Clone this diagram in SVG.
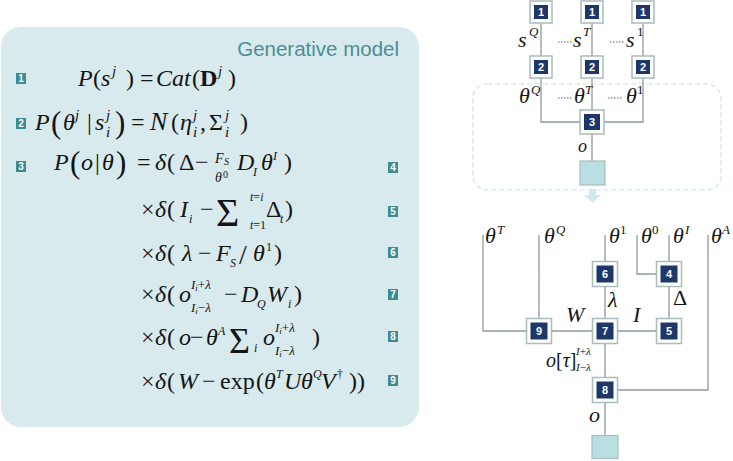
<svg xmlns="http://www.w3.org/2000/svg" width="733" height="461" viewBox="0 0 733 461">
<style>
.eq{font-family:"Liberation Serif","Times New Roman",serif;font-size:24px;fill:#141414}
.i{font-style:italic}
.s{font-size:15px}
.t{font-size:12px}
.b{font-weight:bold}
.bg{font-size:31px}
.badge rect{fill:#3d8c8f}
.badge text{font-family:"Liberation Sans",Arial,sans-serif;font-size:10px;font-weight:bold;fill:#fff;text-anchor:middle}
.fo{fill:#fff;stroke:#a9bcbe;stroke-width:1.5}
.fi{fill:#1d3868}
.fn{font-family:"Liberation Sans",Arial,sans-serif;font-size:11px;font-weight:bold;fill:#fff;text-anchor:middle}
.obs{fill:#b9dfe2;stroke:#a9bcbe;stroke-width:1.2}
.lb{font-family:"Liberation Serif","Times New Roman",serif;font-size:22px;font-style:italic;fill:#141414}
.sp{font-size:13px}
.dot{stroke-dasharray:1.5 1.5}
</style>
<rect x="1" y="27" width="418" height="400" rx="20" fill="#d8eaed"/>
<text x="399" y="56" font-family="Liberation Sans, Arial, sans-serif" font-size="20.5" fill="#4a8f94" text-anchor="end">Generative model</text>

<g class="badge">
<rect x="16" y="73" width="10" height="11"/><text x="21" y="82">1</text>
<rect x="16" y="118" width="10" height="11"/><text x="21" y="127">2</text>
<rect x="16" y="161" width="10" height="11"/><text x="21" y="170">3</text>
<rect x="388" y="162" width="10" height="11"/><text x="393" y="171">4</text>
<rect x="388" y="206" width="10" height="11"/><text x="393" y="215">5</text>
<rect x="388" y="247" width="10" height="11"/><text x="393" y="256">6</text>
<rect x="388" y="289" width="10" height="11"/><text x="393" y="298">7</text>
<rect x="388" y="331" width="10" height="11"/><text x="393" y="340">8</text>
<rect x="388" y="375" width="10" height="11"/><text x="393" y="384">9</text>
</g>

<g id="equations" class="eq">
<text><tspan x="78" y="86" class="i">P</tspan><tspan x="93">(</tspan><tspan x="101" class="i">s</tspan><tspan x="112" y="76" class="i s">j</tspan><tspan x="126" y="86">)</tspan><tspan x="140">=</tspan><tspan x="156" class="i">Cat</tspan><tspan x="192">(</tspan><tspan x="200" class="b">D</tspan><tspan x="218" y="76" class="i s">j</tspan><tspan x="228" y="86">)</tspan></text>

<text><tspan x="35" y="130" class="i">P</tspan><tspan x="51" y="133" class="bg">(</tspan><tspan x="63" y="130" class="i">θ</tspan><tspan x="75" y="120" class="i s">j</tspan><tspan x="87" y="130">|</tspan><tspan x="95" class="i">s</tspan><tspan x="106" y="120" class="i s">j</tspan><tspan x="106" y="137" class="i s">i</tspan><tspan x="115" y="133" class="bg">)</tspan><tspan x="131" y="130">=</tspan><tspan x="150" class="i" font-size="26">N</tspan><tspan x="171">(</tspan><tspan x="180" class="i">η</tspan><tspan x="193" y="120" class="i s">j</tspan><tspan x="193" y="137" class="i s">i</tspan><tspan x="200" y="130">,</tspan><tspan x="209">Σ</tspan><tspan x="225" y="120" class="i s">j</tspan><tspan x="225" y="137" class="i s">i</tspan><tspan x="240" y="130">)</tspan></text>

<text><tspan x="54" y="170" class="i">P</tspan><tspan x="70" y="173" class="bg">(</tspan><tspan x="81" y="170" class="i">o</tspan><tspan x="95">|</tspan><tspan x="102" class="i">θ</tspan><tspan x="116" y="173" class="bg">)</tspan><tspan x="137" y="170">=</tspan><tspan x="155" class="i">δ</tspan><tspan x="167">(</tspan><tspan x="179">Δ</tspan><tspan x="195">−</tspan><tspan x="215" y="163" class="i" font-size="14">F</tspan><tspan x="224" y="165" class="i" font-size="10">S</tspan><tspan x="215" y="182" class="i" font-size="14">θ</tspan><tspan x="223" y="177.5" font-size="10">0</tspan><tspan x="237" y="170" class="i">D</tspan><tspan x="253" y="176" class="i t">I</tspan><tspan x="261" y="170" class="i">θ</tspan><tspan x="273" y="160" class="i t">I</tspan><tspan x="284" y="170">)</tspan></text>

<text><tspan x="141" y="217">×</tspan><tspan x="155" class="i">δ</tspan><tspan x="167">(</tspan><tspan x="180" class="i">I</tspan><tspan x="189" y="223" class="i t">i</tspan><tspan x="200" y="217">−</tspan><tspan x="216" y="226" font-size="40">Σ</tspan><tspan x="250" y="201" class="t"><tspan class="i">t</tspan>=<tspan class="i">i</tspan></tspan><tspan x="250" y="229" class="t"><tspan class="i">t</tspan>=1</tspan><tspan x="266" y="217">Δ</tspan><tspan x="280" y="223" class="i t">t</tspan><tspan x="285" y="217">)</tspan></text>

<text><tspan x="141" y="261">×</tspan><tspan x="155" class="i">δ</tspan><tspan x="167">(</tspan><tspan x="182" class="i">λ</tspan><tspan x="198">−</tspan><tspan x="216" class="i">F</tspan><tspan x="230" y="267" class="i t">S</tspan><tspan x="239" y="264" font-size="28">/</tspan><tspan x="253" y="261" class="i">θ</tspan><tspan x="266" y="251" class="t">1</tspan><tspan x="274" y="261">)</tspan></text>

<text><tspan x="141" y="302">×</tspan><tspan x="155" class="i">δ</tspan><tspan x="167">(</tspan><tspan x="179" class="i">o</tspan><tspan x="191" y="289" class="i" font-size="13">I<tspan font-size="9" dy="2">i</tspan><tspan dy="-2" font-style="normal">+</tspan>λ</tspan><tspan x="191" y="312" class="i" font-size="13">I<tspan font-size="9" dy="2">i</tspan><tspan dy="-2" font-style="normal">−</tspan>λ</tspan><tspan x="224" y="302">−</tspan><tspan x="241" class="i">D</tspan><tspan x="257" y="308" class="i t">Q</tspan><tspan x="267" y="302" class="i">W</tspan><tspan x="288" y="308" class="i t">i</tspan><tspan x="294" y="302">)</tspan></text>

<text><tspan x="141" y="345">×</tspan><tspan x="155" class="i">δ</tspan><tspan x="167">(</tspan><tspan x="179" class="i">o</tspan><tspan x="190">−</tspan><tspan x="206" class="i">θ</tspan><tspan x="218" y="335" class="i t">A</tspan><tspan x="229" y="353" font-size="36">Σ</tspan><tspan x="254" y="352" class="i t">i</tspan><tspan x="263" y="345" class="i">o</tspan><tspan x="275" y="332" class="i" font-size="13">I<tspan font-size="9" dy="2">i</tspan><tspan dy="-2" font-style="normal">+</tspan>λ</tspan><tspan x="275" y="355" class="i" font-size="13">I<tspan font-size="9" dy="2">i</tspan><tspan dy="-2" font-style="normal">−</tspan>λ</tspan><tspan x="312" y="345">)</tspan></text>

<text><tspan x="141" y="389">×</tspan><tspan x="155" class="i">δ</tspan><tspan x="167">(</tspan><tspan x="178" class="i">W</tspan><tspan x="202">−</tspan><tspan x="220">exp</tspan><tspan x="256">(</tspan><tspan x="264" class="i">θ</tspan><tspan x="276" y="378" class="i t">T</tspan><tspan x="284" y="389" class="i">U</tspan><tspan x="301" class="i">θ</tspan><tspan x="313" y="378" class="i t">Q</tspan><tspan x="321" y="389" class="i">V</tspan><tspan x="337" y="378" class="t">†</tspan><tspan x="349" y="389">))</tspan></text>
</g>

<rect x="473" y="84" width="248" height="106" rx="14" fill="none" stroke="#cfe3e8" stroke-width="1.2" stroke-dasharray="5 3"/>
<polygon points="589,189 596,189 596,195 601,195 592.5,203 584,195 589,195" fill="#d2e8ee"/>

<g id="connectors" stroke="#8e9c9d" stroke-width="1.3" fill="none">
<path d="M541 23V56M592 23V56M643 23V56M541 78V122H580M643 78V122H604M592 78V110M592 134V161"/>
<path class="dot" d="M558 42H572M610 42H624M558 98H572M608 98H622"/>
<path d="M483 235V331H526.5M539 235V318.5M605 235V261.5M637 235V274H656.5M669 235V261.5M708 235V390H617.5M605 286.5V318.5M669 286.5V318.5M551.5 331H592.5M617.5 331H656.5M605 343.5V377.5M605 402.5V435.5"/>
</g>

<g id="labels" class="lb">
<text x="518" y="47">s</text><text x="529" y="36" class="sp">Q</text>
<text x="573" y="47">s</text><text x="583" y="36" class="sp">T</text>
<text x="626" y="47">s</text><text x="637" y="36" class="sp" font-style="normal">1</text>
<text x="519" y="103">θ</text><text x="531" y="94" class="sp">Q</text>
<text x="574" y="103">θ</text><text x="585" y="94" class="sp">T</text>
<text x="626" y="103">θ</text><text x="637" y="94" class="sp" font-style="normal">1</text>
<text x="578" y="152" font-size="18">o</text>
<text x="485" y="243">θ</text><text x="497" y="234" class="sp">T</text>
<text x="544" y="243">θ</text><text x="556" y="234" class="sp">Q</text>
<text x="609" y="243">θ</text><text x="620" y="234" class="sp" font-style="normal">1</text>
<text x="641" y="243">θ</text><text x="652" y="234" class="sp" font-style="normal">0</text>
<text x="673" y="243">θ</text><text x="685" y="234" class="sp">I</text>
<text x="711" y="243">θ</text><text x="722" y="234" class="sp">A</text>
<text x="608" y="307">λ</text>
<text x="673" y="305" font-style="normal">Δ</text>
<text x="566" y="322">W</text>
<text x="633" y="322">I</text>
<text x="546" y="367" font-size="20">o<tspan font-style="normal">[</tspan>τ<tspan font-style="normal">]</tspan></text>
<text x="576" y="355" font-size="11">I<tspan font-style="normal">+</tspan>λ</text>
<text x="576" y="371" font-size="11">I<tspan font-style="normal">−</tspan>λ</text>
<text x="589" y="422">o</text>
</g>

<g id="n1a"><rect class="fo" x="530" y="1" width="22" height="22"/><rect class="fi" x="534" y="5" width="14" height="14"/><text class="fn" x="541" y="16">1</text></g>
<g id="n1b"><rect class="fo" x="581" y="1" width="22" height="22"/><rect class="fi" x="585" y="5" width="14" height="14"/><text class="fn" x="592" y="16">1</text></g>
<g id="n1c"><rect class="fo" x="632" y="1" width="22" height="22"/><rect class="fi" x="636" y="5" width="14" height="14"/><text class="fn" x="643" y="16">1</text></g>
<g id="n2a"><rect class="fo" x="530" y="56" width="22" height="22"/><rect class="fi" x="534" y="60" width="14" height="14"/><text class="fn" x="541" y="71">2</text></g>
<g id="n2b"><rect class="fo" x="581" y="56" width="22" height="22"/><rect class="fi" x="585" y="60" width="14" height="14"/><text class="fn" x="592" y="71">2</text></g>
<g id="n2c"><rect class="fo" x="632" y="56" width="22" height="22"/><rect class="fi" x="636" y="60" width="14" height="14"/><text class="fn" x="643" y="71">2</text></g>
<g id="n3"><rect class="fo" x="580" y="110" width="24" height="24"/><rect class="fi" x="584" y="114" width="16" height="16"/><text class="fn" x="592" y="126">3</text></g>
<g id="obs1"><rect class="obs" x="580" y="161" width="25" height="24"/></g>

<g id="n9"><rect class="fo" x="526.5" y="318.5" width="25" height="25"/><rect class="fi" x="530.5" y="322.5" width="17" height="17"/><text class="fn" x="539" y="335">9</text></g>
<g id="n6"><rect class="fo" x="592.5" y="261.5" width="25" height="25"/><rect class="fi" x="596.5" y="265.5" width="17" height="17"/><text class="fn" x="605" y="278">6</text></g>
<g id="n7"><rect class="fo" x="592.5" y="318.5" width="25" height="25"/><rect class="fi" x="596.5" y="322.5" width="17" height="17"/><text class="fn" x="605" y="335">7</text></g>
<g id="n4"><rect class="fo" x="656.5" y="261.5" width="25" height="25"/><rect class="fi" x="660.5" y="265.5" width="17" height="17"/><text class="fn" x="669" y="278">4</text></g>
<g id="n5"><rect class="fo" x="656.5" y="318.5" width="25" height="25"/><rect class="fi" x="660.5" y="322.5" width="17" height="17"/><text class="fn" x="669" y="335">5</text></g>
<g id="n8"><rect class="fo" x="592.5" y="377.5" width="25" height="25"/><rect class="fi" x="596.5" y="381.5" width="17" height="17"/><text class="fn" x="605" y="394">8</text></g>
<g id="obs2"><rect class="obs" x="592" y="435.5" width="26" height="23"/></g>
</svg>
